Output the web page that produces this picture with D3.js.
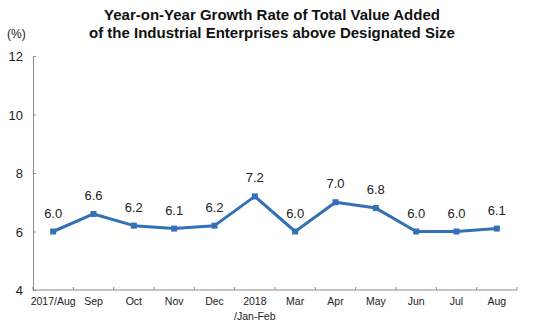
<!DOCTYPE html>
<html><head><meta charset="utf-8">
<script src="https://cdn.jsdelivr.net/npm/d3@7"></script>
<style>body{margin:0;background:#fff}svg{display:block}</style>
</head><body><svg id="c" width="543" height="327"></svg>
<script>
const categories = ["2017/Aug","Sep","Oct","Nov","Dec","2018\n/Jan-Feb","Mar","Apr","May","Jun","Jul","Aug"];
const values = [6.0,6.6,6.2,6.1,6.2,7.2,6.0,7.0,6.8,6.0,6.0,6.1];
const yTicks = [4,6,8,10,12];
const titleLines = ["Year-on-Year Growth Rate of Total Value Added","of the Industrial Enterprises above Designated Size"];

const svg = d3.select("#c");
const font = "Arial, 'Liberation Sans', sans-serif";
const L = 33, R = 517, T = 56, B = 290;
const x = d3.scaleBand().domain(categories).range([L, R]);
const y = d3.scaleLinear().domain([4, 12]).range([B, T]);
const axisColor = "#8c8c8c";

svg.append("g").selectAll("text").data(titleLines).join("text")
  .attr("x", 272).attr("y", (d,i) => 20 + i*18)
  .attr("text-anchor","middle").attr("font-family",font)
  .attr("font-weight","bold").attr("font-size",15).attr("fill","#111").text(d=>d);

svg.append("text").attr("x",7).attr("y",38).attr("font-family",font)
  .attr("font-size",12).attr("fill","#222").text("(%)");

// y axis
const yAxis = svg.append("g").attr("transform",`translate(${L},0)`)
  .call(d3.axisLeft(y).tickValues(yTicks).tickSizeInner(-3).tickSizeOuter(0).tickPadding(0).tickFormat(d3.format("d")));
yAxis.select(".domain").attr("stroke",axisColor);
yAxis.selectAll(".tick line").attr("stroke",axisColor);
yAxis.selectAll(".tick text").attr("x",-10).attr("font-family",font).attr("font-size",13).attr("fill","#222").attr("dy","0.35em");

// x axis
const bounds = categories.map(c => x(c)).concat([R]);
const xg = svg.append("g");
xg.append("line").attr("x1",L).attr("x2",R).attr("y1",B).attr("y2",B).attr("stroke",axisColor);
xg.selectAll("line.t").data(bounds).join("line").attr("class","t")
  .attr("x1",d=>d).attr("x2",d=>d).attr("y1",B).attr("y2",B-3).attr("stroke",axisColor);
const xl = xg.selectAll("text").data(categories).join("text")
  .attr("x",d=>x(d)+x.bandwidth()/2).attr("y",305)
  .attr("text-anchor","middle").attr("font-family",font).attr("font-size",10.5).attr("fill","#222");
xl.each(function(d){
  const lines = d.split("\n");
  d3.select(this).selectAll("tspan").data(lines).join("tspan")
    .attr("x", x(d)+x.bandwidth()/2).attr("dy",(l,i)=> i===0?0:15).text(l=>l);
});

// line
const cx = d => x(d)+x.bandwidth()/2;
const line = d3.line().x((d,i)=>cx(categories[i])).y(d=>y(d));
svg.append("path").datum(values).attr("d",line).attr("fill","none")
  .attr("stroke","#3470b6").attr("stroke-width",3).attr("stroke-linejoin","round");
svg.append("g").selectAll("rect").data(values).join("rect")
  .attr("x",(d,i)=>cx(categories[i])-3).attr("y",d=>y(d)-3)
  .attr("width",6).attr("height",6).attr("fill","#3470b6");
svg.append("g").selectAll("text").data(values).join("text")
  .attr("x",(d,i)=>cx(categories[i])).attr("y",d=>y(d)-14)
  .attr("text-anchor","middle").attr("font-family",font).attr("font-size",13).attr("fill","#222")
  .text(d=>d.toFixed(1));
</script></body></html>
